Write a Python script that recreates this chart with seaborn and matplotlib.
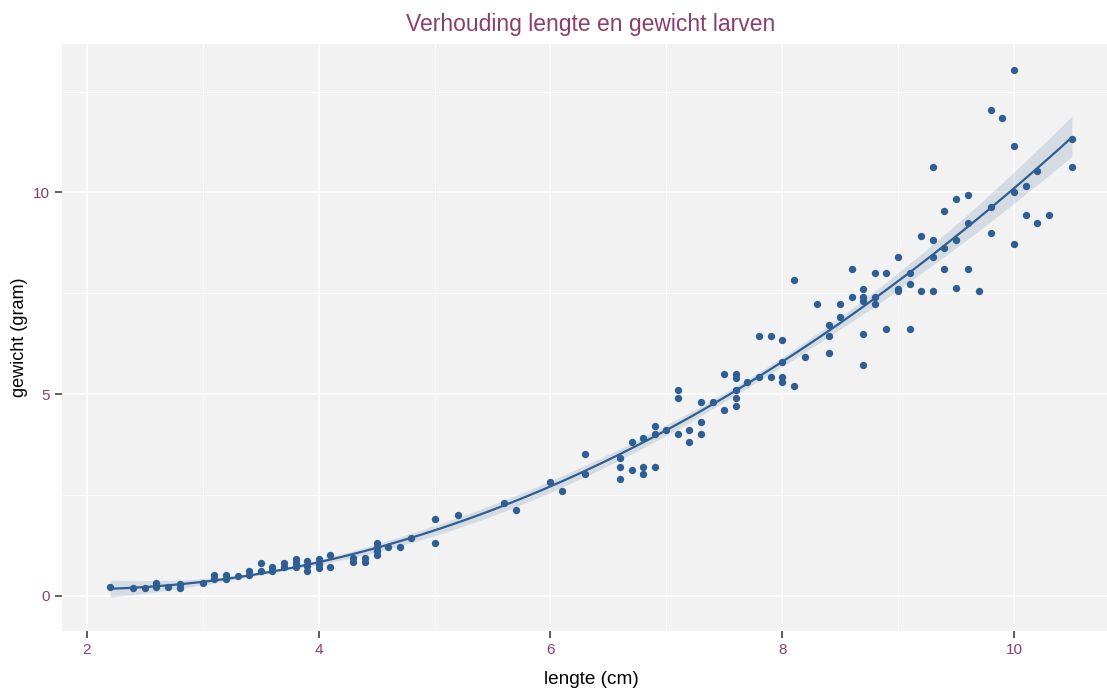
import numpy as np
import pandas as pd
import seaborn as sns
import matplotlib.pyplot as plt
from matplotlib.ticker import MultipleLocator

# lengte (cm) en gewicht (gram) van de larven
lengte = [2.2, 2.4, 2.5, 2.6, 2.6, 2.7, 2.8, 2.8, 3.0, 3.1, 3.1, 3.2, 3.2, 3.3,
          3.4, 3.4, 3.5, 3.5, 3.6, 3.6, 3.7, 3.7, 3.8, 3.8, 3.8, 3.9, 3.9, 3.9,
          4.0, 4.0, 4.0, 4.1, 4.1, 4.3, 4.3, 4.4, 4.4, 4.5, 4.5, 4.5, 4.5, 4.6,
          4.7, 4.8, 5.0, 5.0, 5.2, 5.6, 5.7, 6.0, 6.1, 6.3, 6.3, 6.6, 6.6, 6.6,
          6.7, 6.7, 6.8, 6.8, 6.8, 6.9, 6.9, 6.9, 7.0, 7.1, 7.1, 7.1, 7.2, 7.2,
          7.3, 7.3, 7.3, 7.4, 7.5, 7.5, 7.6, 7.6, 7.6, 7.6, 7.6, 7.7, 7.8, 7.8,
          7.9, 7.9, 8.0, 8.0, 8.0, 8.0, 8.1, 8.1, 8.2, 8.3, 8.4, 8.4, 8.4, 8.5,
          8.5, 8.6, 8.6, 8.7, 8.7, 8.7, 8.7, 8.7, 8.8, 8.8, 8.8, 8.9, 8.9, 9.0,
          9.0, 9.0, 9.1, 9.1, 9.1, 9.2, 9.2, 9.3, 9.3, 9.3, 9.3, 9.4, 9.4, 9.4,
          9.5, 9.5, 9.5, 9.6, 9.6, 9.6, 9.7, 9.8, 9.8, 9.8, 9.9, 10.0, 10.0,
          10.0, 10.0, 10.1, 10.1, 10.2, 10.2, 10.3, 10.5, 10.5]
gewicht = [0.22, 0.2, 0.2, 0.32, 0.22, 0.22, 0.3, 0.2, 0.32, 0.52, 0.42, 0.52, 0.42, 0.5,
           0.62, 0.52, 0.82, 0.62, 0.72, 0.62, 0.82, 0.72, 0.92, 0.82, 0.72, 0.87, 0.75, 0.62,
           0.92, 0.8, 0.7, 1.0, 0.72, 0.94, 0.84, 0.94, 0.84, 1.3, 1.2, 1.1, 1.0, 1.2,
           1.2, 1.43, 1.9, 1.3, 2.0, 2.3, 2.13, 2.83, 2.6, 3.52, 3.03, 3.42, 3.2, 2.9,
           3.82, 3.13, 3.9, 3.2, 3.03, 4.2, 4.0, 3.2, 4.12, 5.1, 4.9, 4.0, 4.12, 3.82,
           4.8, 4.3, 4.0, 4.8, 5.5, 4.6, 5.5, 5.4, 5.1, 4.9, 4.7, 5.3, 6.43, 5.43,
           6.43, 5.43, 6.33, 5.8, 5.43, 5.3, 7.84, 5.2, 5.93, 7.24, 6.72, 6.43, 6.03, 7.24,
           6.92, 8.1, 7.4, 7.6, 7.4, 7.3, 6.5, 5.73, 8.0, 7.4, 7.24, 8.0, 6.62, 8.4,
           7.6, 7.55, 8.0, 7.72, 6.62, 8.93, 7.55, 10.62, 8.83, 8.41, 7.55, 9.53, 8.63, 8.11,
           9.83, 8.83, 7.62, 9.93, 9.23, 8.11, 7.55, 12.03, 9.63, 9.0, 11.84, 13.03, 11.14,
           10.02, 8.71, 10.15, 9.45, 10.52, 9.23, 9.45, 11.32, 10.62]

df = pd.DataFrame({"lengte": lengte, "gewicht": gewicht})

blauw = "#2F5E92"
paars = "#8B3E6A"

sns.set_style("white")
plt.rcParams["font.family"] = ["Liberation Sans", "DejaVu Sans"]
plt.rcParams.update({"xtick.bottom": True, "ytick.left": True,
                     "xtick.major.size": 5, "ytick.major.size": 5,
                     "xtick.major.width": 1.1, "ytick.major.width": 1.1,
                     "xtick.color": "#333333", "ytick.color": "#333333"})

fig = plt.figure(figsize=(11.07, 6.88), dpi=100)
ax = fig.add_axes([62 / 1107, 1 - 630.5 / 688, (1120 - 62) / 1107, 587 / 688])
ax.set_facecolor("#F2F2F2")

sns.regplot(data=df, x="lengte", y="gewicht", order=2, ci=95, seed=1, ax=ax,
            color=blauw,
            scatter_kws={"s": 28, "alpha": 1, "linewidths": 0, "zorder": 3},
            line_kws={"lw": 1.6, "zorder": 4})

ax.set_xlim(1.785, 10.915)
ax.set_ylim(-0.86, 13.69)
ax.xaxis.set_major_locator(MultipleLocator(2))
ax.xaxis.set_minor_locator(MultipleLocator(1))
ax.yaxis.set_major_locator(MultipleLocator(5))
ax.yaxis.set_minor_locator(MultipleLocator(2.5))
ax.grid(which="major", color="white", lw=1.2)
ax.grid(which="minor", color="white", lw=0.6)
ax.set_axisbelow(True)
for s in ax.spines.values():
    s.set_visible(False)

ax.tick_params(axis="both", which="major", direction="out", length=5, width=1.1,
               color="#333333", labelcolor=paars, labelsize=11, pad=4,
               bottom=True, left=True)
ax.tick_params(which="minor", length=0)
for t in ax.xaxis.get_major_ticks() + ax.yaxis.get_major_ticks():
    t.tick1line.set_visible(True)

ax.set_xlabel("")
ax.set_ylabel("")
fig.text(591 / 1107, 1 - 25 / 688, "Verhouding lengte en gewicht larven",
         ha="center", va="center", fontsize=16.5, color=paars)
fig.text(591 / 1107, 1 - 679 / 688, "lengte (cm)", ha="center", va="center",
         fontsize=13.7, color="black")
fig.text(20 / 1107, 1 - 337 / 688, "gewicht (gram)", ha="center", va="center",
         rotation=90, fontsize=13, color="black")

fig.savefig("out.png", dpi=100)
